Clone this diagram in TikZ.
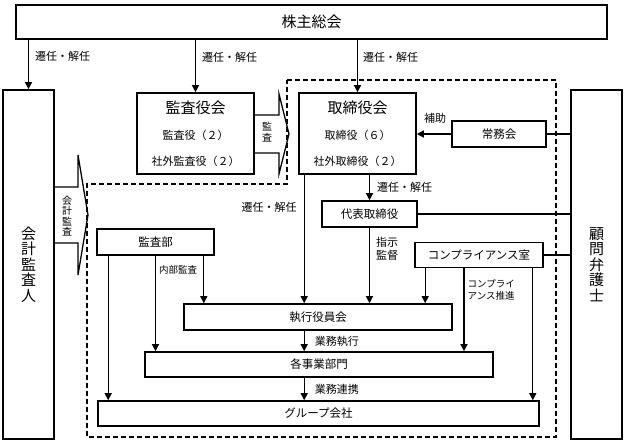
\documentclass[tikz,border=0pt]{standalone}
\usepackage{fontspec}
\setmainfont{Noto Sans CJK JP}
\usetikzlibrary{arrows.meta}

\begin{document}
\begin{tikzpicture}[x=1pt, y=-1pt,
		orgbox/.style={draw, line width=1.6pt, inner sep=0pt, align=center, font=\fontsize{11.5}{14}\selectfont},
		bigbox/.style={orgbox, minimum width=117pt, minimum height=81pt, font=\fontsize{11}{26}\selectfont},
		tallbox/.style={orgbox, minimum width=51pt, minimum height=349pt, font=\fontsize{15}{15.5}\selectfont},
		arr/.style={-{Triangle[length=7pt, width=7pt]}, line width=1.3pt},
		link/.style={line width=1.3pt},
		lbl/.style={font=\fontsize{11}{13}\selectfont, inner sep=1pt},
		small/.style={font=\fontsize{9.5}{12}\selectfont, inner sep=1pt, align=left}
	]

	\useasboundingbox (0,0) rectangle (625,443);

	\node[orgbox, minimum width=591pt, minimum height=34pt, font=\fontsize{15}{17}\selectfont] (gm) at (311.5,22) {株主総会};
	\node[tallbox] (auditor) at (28.5,264.5) {会\\計\\監\\査\\人};
	\node[tallbox] (lawyer) at (596.5,264.5) {顧\\問\\弁\\護\\士};

	\node[bigbox] (kab) at (195.5,133.5) {{\fontsize{15}{26}\selectfont 監査役会}\\監査役（２）\\社外監査役（２）};
	\node[bigbox] (tor) at (357.5,133.5) {{\fontsize{15}{26}\selectfont 取締役会}\\取締役（６）\\社外取締役（２）};
	\node[orgbox, minimum width=94pt, minimum height=26pt] (jom) at (499,134) {常務会};
	\node[orgbox, minimum width=95pt, minimum height=26pt] (rep) at (369.5,214) {代表取締役};
	\node[orgbox, minimum width=117pt, minimum height=26pt] (kansabu) at (155.5,242) {監査部};
	\node[orgbox, minimum width=128pt, minimum height=25pt] (comp) at (479,255) {コンプライアンス室};
	\node[orgbox, minimum width=268pt, minimum height=26pt] (exec) at (318,317) {執行役員会};
	\node[orgbox, minimum width=348pt, minimum height=25pt] (div) at (319,364.5) {各事業部門};
	\node[orgbox, minimum width=441pt, minimum height=25pt] (grp) at (318.5,413.5) {グループ会社};

	% block arrows
	\draw[link] (254,115) -- (279,115) -- (279,94) -- (289,134) -- (279,174) -- (279,153) -- (254,153);
	\node[font=\fontsize{10}{10.5}\selectfont, align=center, inner sep=0pt] (kansa) at (267,132) {監\\査};
	\draw[link] (54,187) -- (78,187) -- (78,155) -- (88,215) -- (78,275) -- (78,243) -- (54,243);
	\node[font=\fontsize{10}{10.5}\selectfont, align=center, inner sep=0pt] (kaikei) at (67,216) {会\\計\\監\\査};

	\draw[link, dash pattern=on 5pt off 3pt] (287,80) -- (556,80) -- (556,437) -- (87,437) -- (87,184) -- (287,184) -- cycle;

	\draw[arr] (auditor.north |- gm.south) -- node[lbl, pos=0.34, right=5pt]{遷任・解任} (auditor.north);
	\draw[arr] (kab.north |- gm.south) -- node[lbl, pos=0.34, right=5pt]{遷任・解任} (kab.north);
	\draw[arr] (tor.north |- gm.south) -- node[lbl, pos=0.34, right=4pt]{遷任・解任} (tor.north);

	\draw[arr] (jom.west) -- node[lbl, pos=0.47, above=9pt]{補助} (tor.east |- jom.west);
	\draw[link] (jom.east) -- (lawyer.west |- jom.east);
	\draw[arr] (rep.north |- tor.south) -- node[lbl, midway, right=6pt]{遷任・解任} (rep.north);
	\draw[link] (rep.east) -- (lawyer.west |- rep.east);
	\draw[link] (comp.east) -- (lawyer.west |- comp.east);

	\coordinate (torL) at ([xshift=6pt]tor.south west);
	\draw[arr] (torL) -- node[lbl, pos=0.25, left=6pt]{遷任・解任} (torL |- exec.north);
	\draw[arr] (rep.south) -- node[lbl, pos=0.28, right=5pt, align=left]{指示\\監督} (rep.south |- exec.north);
	\draw[arr] (torL |- exec.south) -- node[lbl, midway, right=9pt]{業務執行} (torL |- div.north);
	\draw[arr] (torL |- div.south) -- node[lbl, midway, right=9pt]{業務連携} (torL |- grp.north);

	\coordinate (kbL) at ([xshift=12pt]kansabu.south west);
	\coordinate (kbR) at ([xshift=-11pt]kansabu.south east);
	\draw[arr] (kbL) -- (kbL |- grp.north);
	\draw[arr] (kansabu.south) -- node[small, pos=0.15, right=2pt]{内部監査} (kansabu.south |- div.north);
	\draw[arr] (kbR) -- (kbR |- exec.north);

	\coordinate (cpL) at ([xshift=11pt]comp.south west);
	\coordinate (cpM) at ([xshift=-15pt]comp.south);
	\coordinate (cpR) at ([xshift=-11pt]comp.south east);
	\draw[arr] (cpL) -- (cpL |- exec.north);
	\draw[arr] (cpM) -- node[small, pos=0.26, right=2pt]{コンプライ\\アンス推進} (cpM |- div.north);
	\draw[arr] (cpR) -- (cpR |- grp.north);

\end{tikzpicture}
\end{document}
